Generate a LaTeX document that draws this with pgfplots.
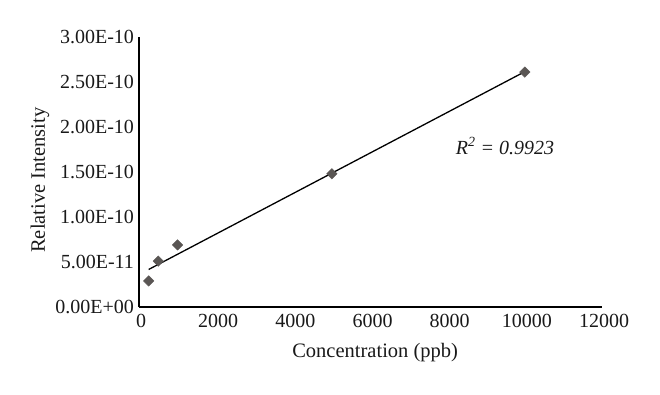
\documentclass[border=0pt]{standalone}
\usepackage{pgfplots}
\pgfplotsset{compat=1.18}
\usepackage{fontspec}
\setmainfont{Liberation Serif}
\definecolor{mk}{HTML}{5A5654}
\begin{document}
\begin{tikzpicture}[x=1pt,y=1pt]
\path[use as bounding box] (0,0) rectangle (660,394);
\begin{axis}[
  at={(139pt,87pt)}, anchor=south west,
  scale only axis, width=463pt, height=270pt,
  xmin=0, xmax=12000, ymin=0, ymax=3e-10,
  axis x line*=bottom, axis y line*=left,
  axis line style={-, line width=1.3pt, black},
  scaled x ticks=false, scaled y ticks=false,
  xtick={0,2000,4000,6000,8000,10000,12000},
  xticklabels={0,2000,4000,6000,8000,10000,12000},
  ytick={0,5e-11,1e-10,1.5e-10,2e-10,2.5e-10,3e-10},
  yticklabels={0.00E+00,5.00E-11,1.00E-10,1.50E-10,2.00E-10,2.50E-10,3.00E-10},
  major tick length=0pt,
  tick label style={font=\fontsize{20}{23}\selectfont, text=black!90},
  yticklabel style={xshift=-1.5pt},
  xticklabel style={yshift=-4pt, xshift=2pt},
  xlabel={Concentration (ppb)},
  ylabel={Relative Intensity},
  label style={font=\fontsize{20.5}{24}\selectfont, text=black!90},
  xlabel style={at={(axis description cs:0.51,-0.167)}, anchor=center},
  ylabel style={at={(axis description cs:-0.214,0.47)}, anchor=center},
  clip=false,
]
\addplot[only marks, mark=square*, mark size=3.7pt, mark options={rotate=45, fill=mk, draw=mk}]
  coordinates {(250,2.9e-11) (500,5.1e-11) (1000,6.9e-11) (5000,1.48e-10) (10000,2.61e-10)};
\addplot[black, line width=1.3pt] coordinates {(250,4.17e-11) (10000,2.615e-10)};
\node[font=\itshape\fontsize{20}{23}\selectfont, text=black!90] at (axis cs:9487,1.79e-10) {R\textsuperscript{2} = 0.9923};
\end{axis}
\end{tikzpicture}
\end{document}
